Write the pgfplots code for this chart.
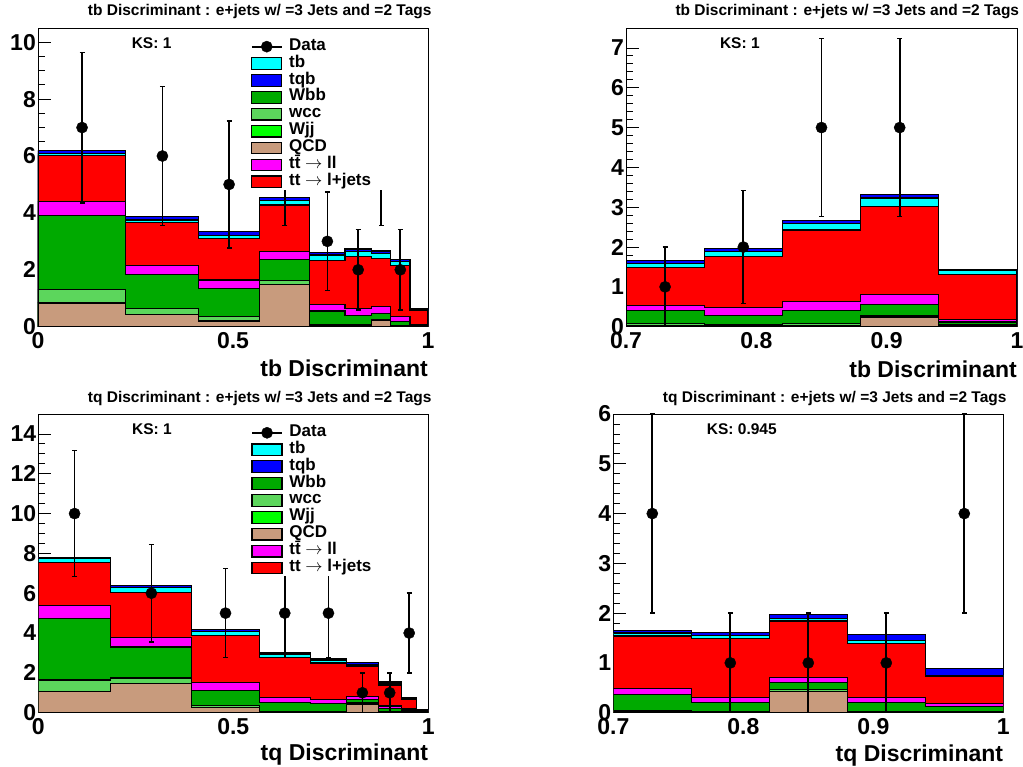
\documentclass[border=0pt]{standalone}
\usepackage{fontspec}
\setmainfont{Liberation Sans}
\usepackage{pgfplots}
\usepackage{pgfplotstable}
\pgfplotsset{compat=1.18}

\definecolor{ctb}{RGB}{0,255,255}
\definecolor{ctqb}{RGB}{0,0,255}
\definecolor{cwbb}{RGB}{0,170,0}
\definecolor{cwcc}{RGB}{92,214,92}
\definecolor{cwjj}{RGB}{0,255,0}
\definecolor{cqcd}{RGB}{200,155,125}
\definecolor{cttll}{RGB}{255,0,255}
\definecolor{cttlj}{RGB}{255,0,0}

% cumulative stack tops per bin (left bin edge), last row closes the last bin
\pgfplotstableread{
x     qcd  wjj  wcc  wbb  ttll ttlj tb   tqb
0.000 0.83 0.83 1.30 3.91 4.39 6.01 6.09 6.19
0.225 0.42 0.42 0.65 1.84 2.14 3.66 3.75 3.87
0.412 0.20 0.20 0.35 1.35 1.64 3.11 3.21 3.34
0.568 1.47 1.47 1.62 2.37 2.64 4.28 4.45 4.55
0.697 0.03 0.03 0.09 0.55 0.79 2.34 2.52 2.60
0.787 0.03 0.03 0.06 0.39 0.65 2.46 2.64 2.73
0.855 0.21 0.21 0.24 0.47 0.70 2.40 2.58 2.66
0.904 0.02 0.02 0.03 0.18 0.35 2.16 2.30 2.37
0.954 0.02 0.02 0.03 0.04 0.06 0.56 0.61 0.65
1.000 0.02 0.02 0.03 0.04 0.06 0.56 0.61 0.65
}\tlstack
\pgfplotstableread{
x     y e
0.113 7 2.646
0.319 6 2.449
0.490 5 2.236
0.633 6 2.449
0.742 3 1.732
0.821 2 1.414
0.880 6 2.449
0.929 2 1.414
}\tldata

\pgfplotstableread{
x    qcd  wjj  wcc  wbb  ttll ttlj tb   tqb
0.70 0.04 0.04 0.08 0.40 0.54 1.49 1.58 1.66
0.76 0.02 0.02 0.06 0.28 0.48 1.76 1.88 1.97
0.82 0.04 0.04 0.08 0.40 0.63 2.43 2.59 2.67
0.88 0.23 0.23 0.27 0.55 0.81 3.02 3.23 3.32
0.94 0.02 0.02 0.05 0.12 0.18 1.32 1.42 1.44
1.00 0.02 0.02 0.05 0.12 0.18 1.32 1.42 1.44
}\trstack
\pgfplotstableread{
x    y e
0.73 1 1
0.79 2 1.414
0.85 5 2.236
0.91 5 2.236
}\trdata

\pgfplotstableread{
x     qcd  wjj  wcc  wbb  ttll ttlj tb   tqb
0.000 1.06 1.06 1.64 4.73 5.38 7.53 7.73 7.81
0.186 1.48 1.48 1.74 3.30 3.79 6.02 6.30 6.39
0.393 0.25 0.25 0.37 1.11 1.51 3.86 4.07 4.17
0.568 0.03 0.03 0.05 0.52 0.75 2.78 2.95 3.04
0.697 0.02 0.02 0.04 0.47 0.67 2.50 2.61 2.70
0.791 0.44 0.44 0.50 0.66 0.80 2.35 2.43 2.53
0.872 0.02 0.02 0.05 0.22 0.34 1.39 1.49 1.58
0.932 0.02 0.02 0.04 0.14 0.20 0.65 0.71 0.74
0.970 0.02 0.02 0.03 0.04 0.05 0.12 0.14 0.17
1.000 0.02 0.02 0.03 0.04 0.05 0.12 0.14 0.17
}\blstack
\pgfplotstableread{
x     y  e
0.093 10 3.162
0.290 6  2.449
0.480 5  2.236
0.632 5  2.236
0.744 5  2.236
0.831 1  1
0.901 1  1
0.951 4  2
}\bldata

\pgfplotstableread{
x    qcd  wjj  wcc  wbb  ttll ttlj tb   tqb
0.70 0.03 0.03 0.05 0.37 0.48 1.54 1.60 1.65
0.76 0.02 0.02 0.03 0.20 0.30 1.49 1.55 1.61
0.82 0.43 0.43 0.47 0.61 0.71 1.84 1.90 1.97
0.88 0.02 0.02 0.03 0.21 0.30 1.39 1.45 1.57
0.94 0.02 0.02 0.03 0.13 0.18 0.72 0.75 0.89
1.00 0.02 0.02 0.03 0.13 0.18 0.72 0.75 0.89
}\brstack
\pgfplotstableread{
x    y e
0.73 4 2
0.79 1 1
0.85 1 1
0.91 1 1
0.97 4 2
}\brdata

\newcommand{\drawstack}[1]{%
  \addplot[const plot, fill=ctqb, draw=black, line width=1.2pt, forget plot] table[x=x,y=tqb]{#1} \closedcycle;
  \addplot[const plot, fill=ctb, draw=black, line width=1.2pt, forget plot] table[x=x,y=tb]{#1} \closedcycle;
  \addplot[const plot, fill=cttlj, draw=black, line width=1.2pt, forget plot] table[x=x,y=ttlj]{#1} \closedcycle;
  \addplot[const plot, fill=cttll, draw=black, line width=1.2pt, forget plot] table[x=x,y=ttll]{#1} \closedcycle;
  \addplot[const plot, fill=cwbb, draw=black, line width=1.2pt, forget plot] table[x=x,y=wbb]{#1} \closedcycle;
  \addplot[const plot, fill=cwcc, draw=black, line width=1.2pt, forget plot] table[x=x,y=wcc]{#1} \closedcycle;
  \addplot[const plot, fill=cwjj, draw=black, line width=1.2pt, forget plot] table[x=x,y=wjj]{#1} \closedcycle;
  \addplot[const plot, fill=cqcd, draw=black, line width=1.2pt, forget plot] table[x=x,y=qcd]{#1} \closedcycle;
}
\newcommand{\drawdata}[1]{%
  \addplot[only marks, black, mark=*, mark size=5.6pt, forget plot,
    error bars/.cd, y dir=both, y explicit,
    error bar style={line width=1.7pt, black},
    error mark options={rotate=90, mark size=2.5pt, line width=1.5pt, black}]
    table[x=x, y=y, y error=e]{#1};
}
\newcommand{\drawlegend}{%
  \addlegendimage{legend image code/.code={\draw[black,line width=1.7pt] (0pt,0pt)--(30pt,0pt); \fill[black] (15pt,0pt) circle (5.6pt);}}
  \addlegendimage{fill=ctb, draw=black, line width=1.2pt}
  \addlegendimage{fill=ctqb, draw=black, line width=1.2pt}
  \addlegendimage{fill=cwbb, draw=black, line width=1.2pt}
  \addlegendimage{fill=cwcc, draw=black, line width=1.2pt}
  \addlegendimage{fill=cwjj, draw=black, line width=1.2pt}
  \addlegendimage{fill=cqcd, draw=black, line width=1.2pt}
  \addlegendimage{fill=cttll, draw=black, line width=1.2pt}
  \addlegendimage{fill=cttlj, draw=black, line width=1.2pt}
  \legend{Data,tb,tqb,Wbb,wcc,Wjj,QCD,{t\={t} $\rightarrow$ ll},{tt $\rightarrow$ l+jets\rule{8pt}{0pt}}}
}

\tikzset{kslabel/.style={anchor=base west, inner sep=0pt, font=\bfseries\fontsize{15.5}{15.5}\selectfont}}

\pgfplotsset{
  rootaxis/.style={
    scale only axis,
    tick align=inside, tick pos=left,
    major tick length=13pt, minor tick length=7pt,
    every tick/.style={black, line width=0.8pt},
    axis line style={line width=0.8pt},
    ymin=0,
    /pgf/number format/assume math mode=true,
    ticklabel style={font=\bfseries\fontsize{23}{23}\selectfont},
    yticklabel style={inner xsep=2pt, inner ysep=0pt},
    xticklabel style={inner sep=0pt, yshift=-6pt},
    xlabel style={at={(rel axis cs:1,0)}, anchor=north east, inner sep=0pt,
      font=\bfseries\fontsize{23}{23}\selectfont},
    title style={at={(rel axis cs:1,1)}, anchor=base east, inner sep=0pt,
      font=\bfseries\fontsize{15.5}{15.5}\selectfont},
    legend style={anchor=north west, fill=white, draw=none, inner xsep=14pt, inner ysep=0pt,
      row sep=0pt, column sep=6.5pt, font=\bfseries\fontsize{17}{17}\selectfont,
      nodes={inner sep=0pt, text height=12pt, text depth=4.9pt}},
    legend cell align=left,
    legend image code/.code={\draw[#1] (0pt,-5.8pt) rectangle (30pt,5.8pt);},
  },
}

\begin{document}
\begin{tikzpicture}
\useasboundingbox (0pt,0pt) rectangle (1023pt,766pt);

% top left
\begin{axis}[rootaxis, at={(38pt,439.3pt)}, anchor=south west,
  width=390pt, height=298.7pt, xmin=0, xmax=1, ymax=10.5,
  xtick={0,0.5,1}, minor x tick num=4, ytick={0,2,...,10}, minor y tick num=3,
  title={tb Discriminant : e+jets w/ =3 Jets and =2 Tags},
  title style={xshift=3.7pt, yshift=6.3pt},
  xlabel={tb Discriminant}, xlabel style={yshift=-33pt},
  legend style={at={(rel axis cs:0.5095,0.9665)}}]
  \drawstack{\tlstack}
  \drawdata{\tldata}
  \drawlegend
  \node[kslabel] at (rel axis cs:0.240,0.932) {KS: 1};
\end{axis}

% top right
\begin{axis}[rootaxis, at={(626pt,439.3pt)}, anchor=south west,
  width=391pt, height=298.7pt, xmin=0.7, xmax=1, ymax=7.5,
  xtick={0.7,0.8,0.9,1}, minor x tick num=4, ytick={0,1,...,7}, minor y tick num=4,
  title={tb Discriminant : e+jets w/ =3 Jets and =2 Tags},
  title style={xshift=2.3pt, yshift=6.3pt},
  xlabel={tb Discriminant}, xlabel style={yshift=-34pt}]
  \drawstack{\trstack}
  \drawdata{\trdata}
  \node[kslabel] at (rel axis cs:0.240,0.932) {KS: 1};
\end{axis}

% bottom left
\begin{axis}[rootaxis, at={(38.3pt,53.3pt)}, anchor=south west,
  width=390pt, height=298.7pt, xmin=0, xmax=1, ymax=15,
  xtick={0,0.5,1}, minor x tick num=4, ytick={0,2,...,14}, minor y tick num=3,
  title={tq Discriminant : e+jets w/ =3 Jets and =2 Tags},
  title style={xshift=3.4pt, yshift=5.7pt},
  xlabel={tq Discriminant}, xlabel style={yshift=-31pt},
  legend style={at={(rel axis cs:0.5095,0.966)}}]
  \drawstack{\blstack}
  \drawdata{\bldata}
  \drawlegend
  \node[kslabel] at (rel axis cs:0.240,0.933) {KS: 1};
\end{axis}

% bottom right
\begin{axis}[rootaxis, at={(613.3pt,53.3pt)}, anchor=south west,
  width=390pt, height=298.7pt, xmin=0.7, xmax=1, ymax=6,
  xtick={0.7,0.8,0.9,1}, minor x tick num=4, ytick={0,1,...,6}, minor y tick num=4,
  title={tq Discriminant : e+jets w/ =3 Jets and =2 Tags},
  title style={xshift=3.4pt, yshift=5.7pt},
  xlabel={tq Discriminant}, xlabel style={yshift=-32pt}]
  \drawstack{\brstack}
  \drawdata{\brdata}
  \node[kslabel] at (rel axis cs:0.2395,0.933) {KS: 0.945};
\end{axis}
\end{tikzpicture}
\end{document}
